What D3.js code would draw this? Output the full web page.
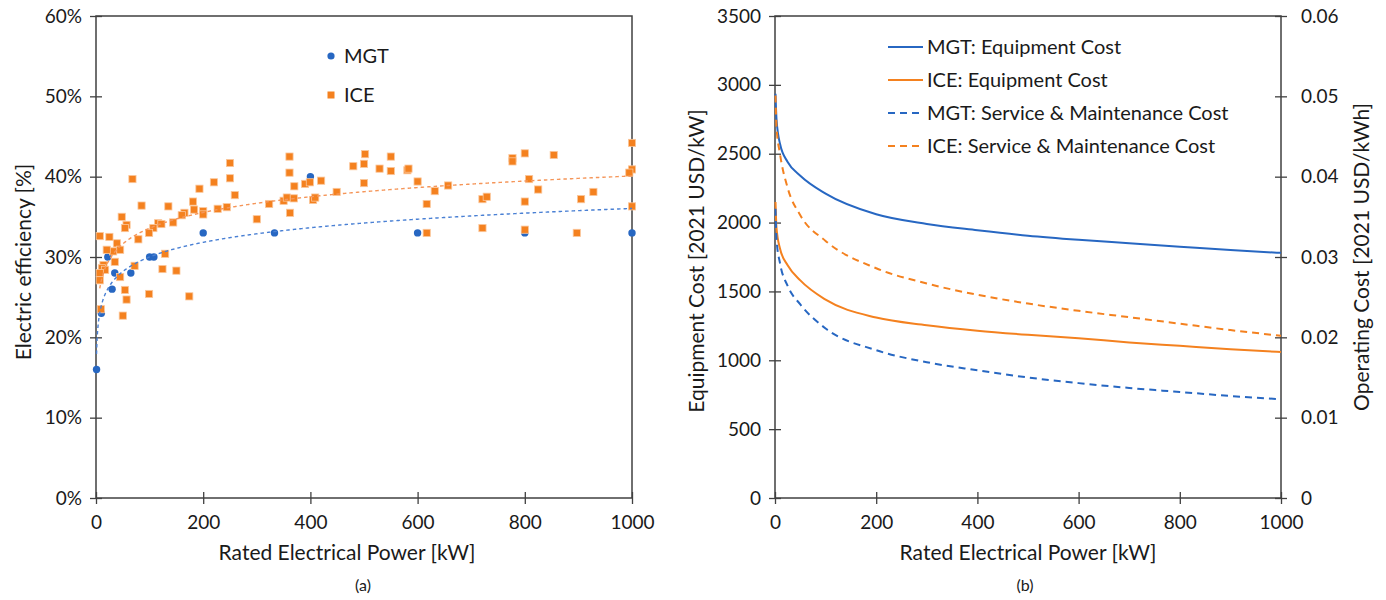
<!DOCTYPE html>
<html>
<head>
<meta charset="utf-8">
<title>MGT vs ICE</title>
<script src="https://d3js.org/d3.v7.min.js"></script>
<style>
    html, body { margin: 0; padding: 0; background: #fff; }
    svg { display: block; }
    text { font-family: Lato, "Open Sans", sans-serif; fill: #1a1a1a; }
    .tick text { font-size: 19px; }
    .axis-title { font-size: 21px; }
    .legend text { font-size: 20px; }
    .domain { display: none; }
    .tick line { stroke: #404040; stroke-width: 1.3px; }
    .frame { fill: none; stroke: #404040; stroke-width: 1.5px; }
</style>
</head>
<body>
<svg width="1386" height="600"></svg>
<script>
// (a) electric efficiency survey, x in kW, y in %
const mgtPower = [1, 10, 22, 30, 35, 65, 100, 108, 200, 333, 400, 600, 800, 1000];
const mgtEff   = [16, 23, 30, 26, 28, 28, 30, 30, 33, 33, 40, 33, 33, 33];

const icePower = [85, 135, 181, 48, 57, 54, 116, 122, 144, 107, 99, 79, 7, 25, 39, 45, 32, 20, 129, 35,
    14, 11, 17, 7, 7, 72, 45, 124, 150, 54, 57, 99, 174, 9, 50, 250, 68, 250, 220, 193,
    259, 200, 183, 165, 160, 200, 227, 244, 300, 323, 350, 356, 361, 361, 362, 370, 390, 399, 420, 369,
    405, 409, 449, 480, 502, 500, 550, 529, 550, 581, 583, 500, 600, 632, 657, 617, 617, 721, 729, 721,
    777, 777, 800, 854, 808, 825, 928, 1000, 1000, 995, 800, 905, 1000, 800, 897];
const iceEff = [36.4, 36.3, 36.9, 35.0, 34.0, 33.6, 34.2, 34.1, 34.3, 33.6, 33.0, 32.2, 32.6, 32.5, 31.7, 30.9, 30.7, 30.9, 30.4, 29.4,
    29.0, 28.6, 28.4, 28.0, 27.1, 28.9, 27.5, 28.5, 28.3, 25.9, 24.7, 25.4, 25.1, 23.5, 22.7, 41.7, 39.7, 39.8, 39.3, 38.5,
    37.7, 35.7, 35.9, 35.5, 35.2, 35.3, 36.0, 36.2, 34.7, 36.6, 37.0, 37.4, 42.5, 40.5, 35.5, 38.8, 39.1, 39.3, 39.5, 37.3,
    37.1, 37.4, 38.1, 41.3, 42.8, 41.6, 42.5, 41.0, 40.7, 40.8, 41.0, 39.2, 39.4, 38.2, 38.9, 36.6, 33.0, 37.2, 37.5, 33.6,
    42.3, 41.9, 42.9, 42.7, 39.7, 38.4, 38.1, 44.2, 40.9, 40.5, 36.9, 37.2, 36.3, 33.4, 33.0];

// (b) cost curves
const sizeKW     = [1, 3, 10, 25, 50, 100, 200, 300, 400, 500, 600, 700, 800, 900, 1000];
const mgtEquip   = [2935, 2750, 2570, 2440, 2340, 2210, 2060, 1990, 1945, 1905, 1875, 1850, 1825, 1800, 1780];
const iceEquip   = [2150, 1960, 1810, 1690, 1580, 1440, 1310, 1255, 1215, 1185, 1160, 1130, 1105, 1080, 1060];
const mgtService = [0.0360, 0.0322, 0.0292, 0.0264, 0.0241, 0.0211, 0.0184, 0.0169, 0.0159, 0.0150, 0.0143, 0.0137, 0.0132, 0.0127, 0.0123];
const iceService = [0.0501, 0.0462, 0.0428, 0.0386, 0.0352, 0.0320, 0.0286, 0.0267, 0.0253, 0.0242, 0.0233, 0.0225, 0.0217, 0.0209, 0.0202];

const powerTicks = [0, 200, 400, 600, 800, 1000];
const effTicks = [0, 10, 20, 30, 40, 50, 60];
const equipTicks = [0, 500, 1000, 1500, 2000, 2500, 3000, 3500];
const opTicks = [0, 0.01, 0.02, 0.03, 0.04, 0.05, 0.06];

const blue = '#2767c2';
const orange = '#f4811f';

let svg = d3.select('svg');
let plain = d3.format('d');

// ---------- helpers
function crossTicks(g, horizontal) {
    g.selectAll('.tick line').attr(horizontal ? 'y1' : 'x1', horizontal ? -6 : 6);
}

function frame(x, y) {
    svg.append('rect').classed('frame', true)
        .attr('x', x.range()[0]).attr('y', y.range()[1])
        .attr('width', x.range()[1] - x.range()[0])
        .attr('height', y.range()[0] - y.range()[1]);
}

function logFit(xs, ys) {
    let lx = xs.map(Math.log);
    let mx = d3.mean(lx), my = d3.mean(ys);
    let sxy = d3.sum(lx, (v, i) => (v - mx) * (ys[i] - my));
    let sxx = d3.sum(lx, v => (v - mx) * (v - mx));
    let b = sxy / sxx;
    return { a: my - b * mx, b: b };
}

// ---------- (a)
let xA = d3.scaleLinear().domain([0, 1000]).range([96, 632]);
let yA = d3.scaleLinear().domain([0, 60]).range([498, 16]);

frame(xA, yA);

svg.append('g').attr('transform', 'translate(0,498)')
    .call(d3.axisBottom(xA).tickValues(powerTicks).tickSize(6).tickPadding(12).tickFormat(plain))
    .call(g => crossTicks(g, true));
svg.append('g').attr('transform', 'translate(96,0)')
    .call(d3.axisLeft(yA).tickValues(effTicks).tickSize(6).tickPadding(8).tickFormat(d => d + '%'))
    .call(g => crossTicks(g, false));

let mgtPts = mgtPower.map((p, i) => ({ p: p, e: mgtEff[i] }));
let icePts = icePower.map((p, i) => ({ p: p, e: iceEff[i] }));

svg.append('g').selectAll('circle')
    .data(mgtPts)
    .join('circle')
    .attr('cx', d => xA(d.p))
    .attr('cy', d => yA(d.e))
    .attr('r', 3.7)
    .style('fill', blue);

svg.append('g').selectAll('rect')
    .data(icePts)
    .join('rect')
    .attr('x', d => xA(d.p) - 3.6)
    .attr('y', d => yA(d.e) - 3.6)
    .attr('width', 7.2)
    .attr('height', 7.2)
    .style('fill', orange)
    .style('stroke', '#fbc79c')
    .style('stroke-width', 0.8);

// logarithmic trendlines, fitted to each data set like a spreadsheet would
[[mgtPower, mgtEff, '#4a80d4'], [icePower, iceEff, '#f5965a']].forEach(([xs, ys, col]) => {
    let fit = logFit(xs, ys);
    let grid = d3.range(d3.min(xs), d3.max(xs) + 1, 1);
    svg.append('path')
        .datum(grid)
        .attr('d', d3.line().x(p => xA(p)).y(p => yA(fit.a + fit.b * Math.log(p))))
        .style('fill', 'none')
        .style('stroke', col)
        .style('stroke-width', 1.4)
        .style('stroke-dasharray', '3.5,3');
});

let legA = svg.append('g').classed('legend', true);
legA.append('circle').attr('cx', 331).attr('cy', 56).attr('r', 3.6).style('fill', blue);
legA.append('text').attr('x', 344).attr('y', 56).attr('dy', '0.35em').text('MGT');
legA.append('rect').attr('x', 327.5).attr('y', 91.5).attr('width', 7).attr('height', 7).style('fill', orange);
legA.append('text').attr('x', 344).attr('y', 95).attr('dy', '0.35em').text('ICE');

svg.append('text').classed('axis-title', true)
    .attr('x', 347).attr('y', 560).attr('text-anchor', 'middle')
    .text('Rated Electrical Power [kW]');
svg.append('text').classed('axis-title', true)
    .attr('transform', 'translate(31,262) rotate(-90)').attr('text-anchor', 'middle')
    .text('Electric efficiency [%]');
svg.append('text').attr('x', 363).attr('y', 591).attr('text-anchor', 'middle')
    .style('font-size', '16px').text('(a)');

// ---------- (b)
let xB = d3.scaleLinear().domain([0, 1000]).range([775, 1281]);
let yB = d3.scaleLinear().domain([0, 3500]).range([498, 16]);
let yB2 = d3.scaleLinear().domain([0, 0.06]).range([498, 16]);

frame(xB, yB);

svg.append('g').attr('transform', 'translate(0,498)')
    .call(d3.axisBottom(xB).tickValues(powerTicks).tickSize(6).tickPadding(12).tickFormat(plain))
    .call(g => crossTicks(g, true));
svg.append('g').attr('transform', 'translate(775,0)')
    .call(d3.axisLeft(yB).tickValues(equipTicks).tickSize(6).tickPadding(8).tickFormat(plain))
    .call(g => crossTicks(g, false));
svg.append('g').attr('transform', 'translate(1281,0)')
    .call(d3.axisRight(yB2).tickValues(opTicks).tickSize(6).tickPadding(14).tickFormat(d => d === 0 ? '0' : d3.format('.2f')(d)))
    .call(g => g.selectAll('.tick line').attr('x1', -6));

let series = [
    { name: 'MGT: Equipment Cost', vals: mgtEquip, y: yB, col: blue, dash: null },
    { name: 'ICE: Equipment Cost', vals: iceEquip, y: yB, col: orange, dash: null },
    { name: 'MGT: Service & Maintenance Cost', vals: mgtService, y: yB2, col: blue, dash: '7,5' },
    { name: 'ICE: Service & Maintenance Cost', vals: iceService, y: yB2, col: orange, dash: '7,5' }
];

series.forEach(s => {
    let line = d3.line()
        .x((v, i) => xB(sizeKW[i]))
        .y(v => s.y(v))
        .curve(d3.curveMonotoneX);
    svg.append('path')
        .datum(s.vals)
        .attr('d', line)
        .style('fill', 'none')
        .style('stroke', s.col)
        .style('stroke-width', 2)
        .style('stroke-dasharray', s.dash);
});

let legB = svg.append('g').classed('legend', true)
    .selectAll('g')
    .data(series)
    .join('g')
    .attr('transform', (d, i) => `translate(888,${47 + i * 33})`);
legB.append('line')
    .attr('x1', 0).attr('x2', 35)
    .style('stroke', d => d.col)
    .style('stroke-width', 2)
    .style('stroke-dasharray', d => d.dash ? '7,5' : null);
legB.append('text')
    .attr('x', 39).attr('dy', '0.35em')
    .text(d => d.name);

svg.append('text').classed('axis-title', true)
    .attr('x', 1028).attr('y', 560).attr('text-anchor', 'middle')
    .text('Rated Electrical Power [kW]');
svg.append('text').classed('axis-title', true)
    .attr('transform', 'translate(704,261) rotate(-90)').attr('text-anchor', 'middle')
    .text('Equipment Cost [2021 USD/kW]');
svg.append('text').classed('axis-title', true)
    .attr('transform', 'translate(1369,257) rotate(-90)').attr('text-anchor', 'middle')
    .text('Operating Cost [2021 USD/kWh]');
svg.append('text').attr('x', 1025).attr('y', 591).attr('text-anchor', 'middle')
    .style('font-size', '16px').text('(b)');
</script>
</body>
</html>
